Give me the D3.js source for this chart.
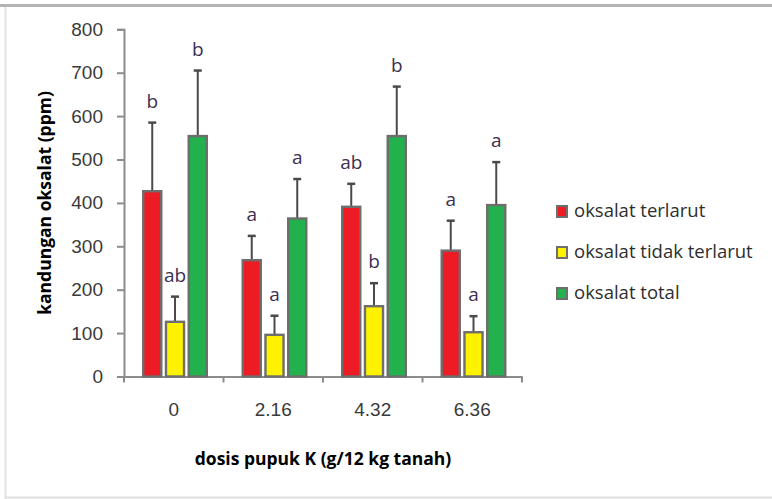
<!DOCTYPE html>
<html>
<head>
<meta charset="utf-8">
<script src="https://cdn.jsdelivr.net/npm/d3@7"></script>
<style>
  body { margin: 0; background: #fff; }
  svg { display: block; font-family: "Open Sans", sans-serif; }
</style>
</head>
<body>
<div id="chart"></div>
<script>
// categories and series
const doses = ['0', '2.16', '4.32', '6.36'];
const seriesNames = ['oksalat terlarut', 'oksalat tidak terlarut', 'oksalat total'];
const seriesColors = ['#ed1c24', '#fff200', '#22b14c'];

// values (ppm)
const terlarut = [427, 268, 391, 290];
const tidakTerlarut = [126, 96, 162, 102];
const total = [554, 364, 554, 395];

// upper error (mean + sd)
const terlarutErr = [585, 324, 444, 359];
const tidakTerlarutErr = [184, 140, 215, 139];
const totalErr = [705, 455, 668, 494];

// significance letters
const terlarutLetters = ['b', 'a', 'ab', 'a'];
const tidakTerlarutLetters = ['ab', 'a', 'b', 'a'];
const totalLetters = ['b', 'a', 'b', 'a'];

const yTicks = [0, 100, 200, 300, 400, 500, 600, 700, 800];

const width = 772, height = 499;

const svg = d3.select('#chart').append('svg')
  .attr('width', width)
  .attr('height', height);

// outer frame like the pasted screenshot
svg.append('line').attr('x1', 0).attr('x2', width).attr('y1', 5.5).attr('y2', 5.5)
  .attr('stroke', '#b4b4b4').attr('stroke-width', 3);
svg.append('line').attr('x1', 5.5).attr('x2', 5.5).attr('y1', 7).attr('y2', height)
  .attr('stroke', '#e4e4e4').attr('stroke-width', 2);
svg.append('line').attr('x1', 5).attr('x2', width).attr('y1', 497.5).attr('y2', 497.5)
  .attr('stroke', '#e0e0e0').attr('stroke-width', 2);

const x0 = d3.scaleBand().domain(doses).range([124, 522]).padding(0);
const x1 = d3.scaleBand().domain(seriesNames).range([18, 84]).paddingInner(0.1);
const y = d3.scaleLinear().domain([0, 800]).range([376.5, 29.3]);

const rows = doses.map((d, i) => ({
  dose: d,
  items: [
    { s: seriesNames[0], v: terlarut[i], e: terlarutErr[i], l: terlarutLetters[i], c: seriesColors[0] },
    { s: seriesNames[1], v: tidakTerlarut[i], e: tidakTerlarutErr[i], l: tidakTerlarutLetters[i], c: seriesColors[1] },
    { s: seriesNames[2], v: total[i], e: totalErr[i], l: totalLetters[i], c: seriesColors[2] }
  ]
}));

// y axis
const yAxis = svg.append('g')
  .attr('transform', 'translate(124,0)')
  .call(d3.axisLeft(y).tickValues(yTicks).tickSize(7).tickPadding(14));
yAxis.select('.domain').attr('stroke', '#8c8c8c').attr('stroke-width', 2);
yAxis.selectAll('.tick line').attr('stroke', '#8c8c8c').attr('stroke-width', 2);
yAxis.selectAll('.tick text').attr('fill', '#3a3a3a').style('font-size', '19px');

// x axis
const xAxis = svg.append('g')
  .attr('transform', 'translate(0,376.5)')
  .call(d3.axisBottom(x0).tickSize(0).tickPadding(26));
xAxis.select('.domain').attr('stroke', '#8c8c8c').attr('stroke-width', 2);
xAxis.selectAll('.tick text').attr('fill', '#3a3a3a').style('font-size', '19px');
// category boundary ticks
xAxis.selectAll('.bound')
  .data(doses.concat(['end']))
  .join('line')
  .attr('class', 'bound')
  .attr('x1', (d, i) => i < doses.length ? x0(d) : x0.range()[1])
  .attr('x2', (d, i) => i < doses.length ? x0(d) : x0.range()[1])
  .attr('y1', 0).attr('y2', 6)
  .attr('stroke', '#8c8c8c').attr('stroke-width', 2);

// bars
const groups = svg.append('g').selectAll('g')
  .data(rows)
  .join('g')
  .attr('transform', d => `translate(${x0(d.dose)},0)`);

// error bars (drawn first so bar covers lower part)
groups.selectAll('.err')
  .data(d => d.items)
  .join('g')
  .attr('class', 'err')
  .each(function (d) {
    const g = d3.select(this);
    const cx = x1(d.s) + x1.bandwidth() / 2;
    g.append('line').attr('x1', cx).attr('x2', cx).attr('y1', y(d.v)).attr('y2', y(d.e))
      .attr('stroke', '#4a4a4a').attr('stroke-width', 2);
    g.append('line').attr('x1', cx - 4).attr('x2', cx + 4).attr('y1', y(d.e)).attr('y2', y(d.e))
      .attr('stroke', '#4a4a4a').attr('stroke-width', 2.5);
  });

groups.selectAll('rect')
  .data(d => d.items)
  .join('rect')
  .attr('x', d => x1(d.s) + 1.2)
  .attr('width', x1.bandwidth() - 2.4)
  .attr('y', d => y(d.v))
  .attr('height', d => y(0) - y(d.v))
  .attr('fill', d => d.c)
  .attr('stroke', '#6e6e6e')
  .attr('stroke-width', 2.4);

// letters
groups.selectAll('.letter')
  .data(d => d.items)
  .join('text')
  .attr('class', 'letter')
  .attr('x', d => x1(d.s) + x1.bandwidth() / 2)
  .attr('y', d => y(d.e) - 15)
  .attr('text-anchor', 'middle')
  .attr('fill', '#3d2f52')
  .style('font-size', '19px')
  .text(d => d.l);

// axis titles
svg.append('text')
  .attr('transform', 'translate(51,203) rotate(-90)')
  .attr('text-anchor', 'middle')
  .attr('fill', '#000')
  .style('font-size', '17.5px')
  .style('font-weight', 'bold')
  .text('kandungan oksalat  (ppm)');

svg.append('text')
  .attr('x', 323).attr('y', 465)
  .attr('text-anchor', 'middle')
  .attr('fill', '#000')
  .style('font-size', '17.5px')
  .style('font-weight', 'bold')
  .text('dosis pupuk K (g/12 kg tanah)');

// legend
const legend = svg.append('g').selectAll('g')
  .data(seriesNames)
  .join('g')
  .attr('transform', (d, i) => `translate(557,${211 + i * 41})`);
legend.append('rect')
  .attr('x', 0).attr('y', -5).attr('width', 10).attr('height', 11)
  .attr('fill', (d, i) => seriesColors[i])
  .attr('stroke', '#6e6e6e').attr('stroke-width', 2);
legend.append('text')
  .attr('x', 17).attr('y', 0).attr('dy', '0.35em')
  .attr('fill', '#2e2e2e')
  .style('font-size', '18.5px')
  .text(d => d);
</script>
</body>
</html>
